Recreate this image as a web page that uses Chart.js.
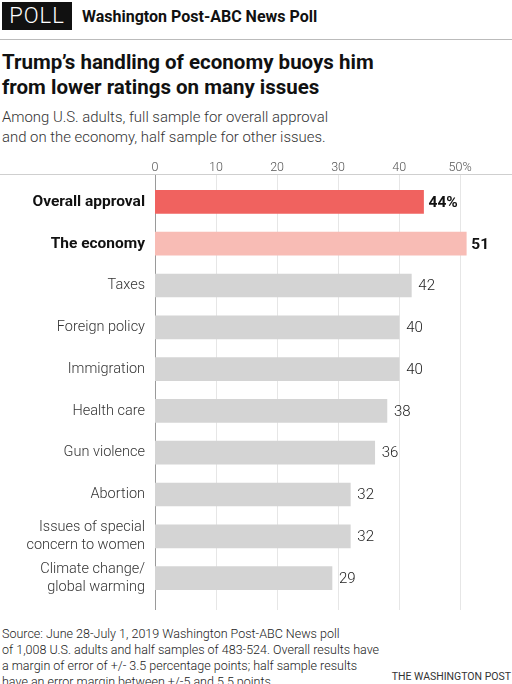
<!DOCTYPE html>
<html>
<head>
<meta charset="utf-8">
<script src="https://cdn.jsdelivr.net/npm/chart.js@4"></script>
<style>
  body { margin: 0; background: #fff; font-family: Roboto, sans-serif; color: #111; }
  #page { position: relative; width: 512px; height: 684px; overflow: hidden; }
  .abs { position: absolute; white-space: nowrap; }
  #poll { left: 2px; top: 2px; width: 70px; height: 28px; background: #111; color: #fff;
    font-size: 22px; font-weight: 300; letter-spacing: 1px; text-align: center; line-height: 28px; }
  #kicker { left: 82px; top: 7px; font-size: 16px; font-weight: 700; line-height: 20px; }
  #rule { left: 0; top: 39px; width: 512px; height: 1px; background: #bbb; }
  #title { left: 2px; top: 50px; font-size: 20.5px; font-weight: 700; line-height: 25px; }
  #subtitle { left: 2px; top: 107px; font-size: 14.9px; font-weight: 300; color: #333; line-height: 20px; }
  #chart-wrap { left: 0; top: 150px; width: 512px; height: 464px; }
  #source { left: 2px; top: 626px; font-size: 12.5px; font-weight: 300; color: #222; line-height: 16px; }
  #credit { right: 1px; top: 670px; font-size: 10.5px; color: #333; line-height: 14px; }
</style>
</head>
<body>
<div id="page">
  <div id="poll" class="abs">POLL</div>
  <div id="kicker" class="abs">Washington Post-ABC News Poll</div>
  <div id="rule" class="abs"></div>
  <div id="title" class="abs">Trump’s handling of economy buoys him<br>from lower ratings on many issues</div>
  <div id="subtitle" class="abs">Among U.S. adults, full sample for overall approval<br>and on the economy, half sample for other issues.</div>
  <div id="chart-wrap" class="abs"><canvas id="chart" width="512" height="464"></canvas></div>
  <div id="source" class="abs">Source: June 28-July 1, 2019 Washington Post-ABC News poll<br>of 1,008 U.S. adults and half samples of 483-524. Overall results have<br>a margin of error of +/- 3.5 percentage points; half sample results<br>have an error margin between +/-5 and 5.5 points.</div>
  <div id="credit" class="abs">THE WASHINGTON POST</div>
</div>
<script>
const CATEGORIES = [
  "Overall approval",
  "The economy",
  "Taxes",
  "Foreign policy",
  "Immigration",
  "Health care",
  "Gun violence",
  "Abortion",
  ["Issues of special", "concern to women"],
  ["Climate change/", "global warming"],
];
const APPROVAL = [44, 51, 42, 40, 40, 38, 36, 32, 32, 29];
const X_TICKS = [0, 10, 20, 30, 40, 50];

const COLORS = {
  overall: "#f0625f",
  economy: "#f8bcb5",
  issue: "#d4d4d4",
  grid: "#e6e6e6",
  zero: "#9a9a9a",
  rule: "#cfcfcf",
};

const FONT = "Roboto, sans-serif";

// gridlines, zero line and the rule under the tick labels
const gridPlugin = {
  id: "grid",
  beforeDatasetsDraw(chart) {
    const { ctx, scales } = chart;
    const x = scales.x;
    ctx.save();
    ctx.lineWidth = 1;
    ctx.strokeStyle = COLORS.rule;
    ctx.beginPath();
    ctx.moveTo(0, 24.5);
    ctx.lineTo(chart.width, 24.5);
    ctx.stroke();
    X_TICKS.forEach((v) => {
      const px = Math.round(x.getPixelForValue(v)) + 0.5;
      ctx.strokeStyle = v === 0 ? COLORS.zero : COLORS.grid;
      ctx.beginPath();
      ctx.moveTo(px, 25);
      ctx.lineTo(px, 460);
      ctx.stroke();
    });
    ctx.restore();
  },
};

// value labels at the end of each bar
const valuePlugin = {
  id: "values",
  afterDatasetsDraw(chart) {
    const { ctx } = chart;
    const meta = chart.getDatasetMeta(0);
    ctx.save();
    ctx.textBaseline = "middle";
    ctx.textAlign = "left";
    meta.data.forEach((bar, i) => {
      const bold = i < 2;
      ctx.font = (bold ? "700 15.5px " : "300 15px ") + FONT;
      ctx.fillStyle = bold ? "#111" : "#222";
      const text = i === 0 ? APPROVAL[i] + "%" : String(APPROVAL[i]);
      ctx.fillText(text, bar.x + (bold ? 5 : 7), bar.y + 1);
    });
    ctx.restore();
  },
};

new Chart(document.getElementById("chart").getContext("2d"), {
  type: "bar",
  data: {
    labels: CATEGORIES,
    datasets: [
      {
        data: APPROVAL,
        backgroundColor: APPROVAL.map((_, i) =>
          i === 0 ? COLORS.overall : i === 1 ? COLORS.economy : COLORS.issue
        ),
        barThickness: 23,
        borderWidth: 0,
      },
    ],
  },
  options: {
    indexAxis: "y",
    responsive: false,
    animation: false,
    layout: { padding: { top: 0, right: 3, bottom: 15, left: 0 } },
    plugins: { legend: { display: false }, tooltip: { enabled: false } },
    scales: {
      x: {
        position: "top",
        min: 0,
        max: 58,
        afterBuildTicks: (scale) => {
          scale.ticks = X_TICKS.map((v) => ({ value: v }));
        },
        afterFit: (scale) => {
          scale.height = 31;
          scale.paddingLeft = 0;
          scale.paddingRight = 0;
        },
        grid: { display: false, drawTicks: false },
        border: { display: false },
        ticks: {
          padding: 6,
          color: "#555",
          font: { family: FONT, size: 12.5, weight: 300 },
          callback: (v) => (v === 50 ? "50%" : v),
        },
      },
      y: {
        afterFit: (scale) => {
          scale.width = 155;
          scale.paddingTop = 0;
          scale.paddingBottom = 0;
        },
        grid: { display: false, drawTicks: false },
        border: { display: false },
        ticks: {
          padding: 10,
          color: (c) => (c.index < 2 ? "#111" : "#333"),
          font: (c) => ({
            family: FONT,
            size: c.index < 2 ? 15.5 : 14.5,
            weight: c.index < 2 ? 700 : 300,
            lineHeight: 1.25,
          }),
        },
      },
    },
  },
  plugins: [gridPlugin, valuePlugin],
});
</script>
</body>
</html>
